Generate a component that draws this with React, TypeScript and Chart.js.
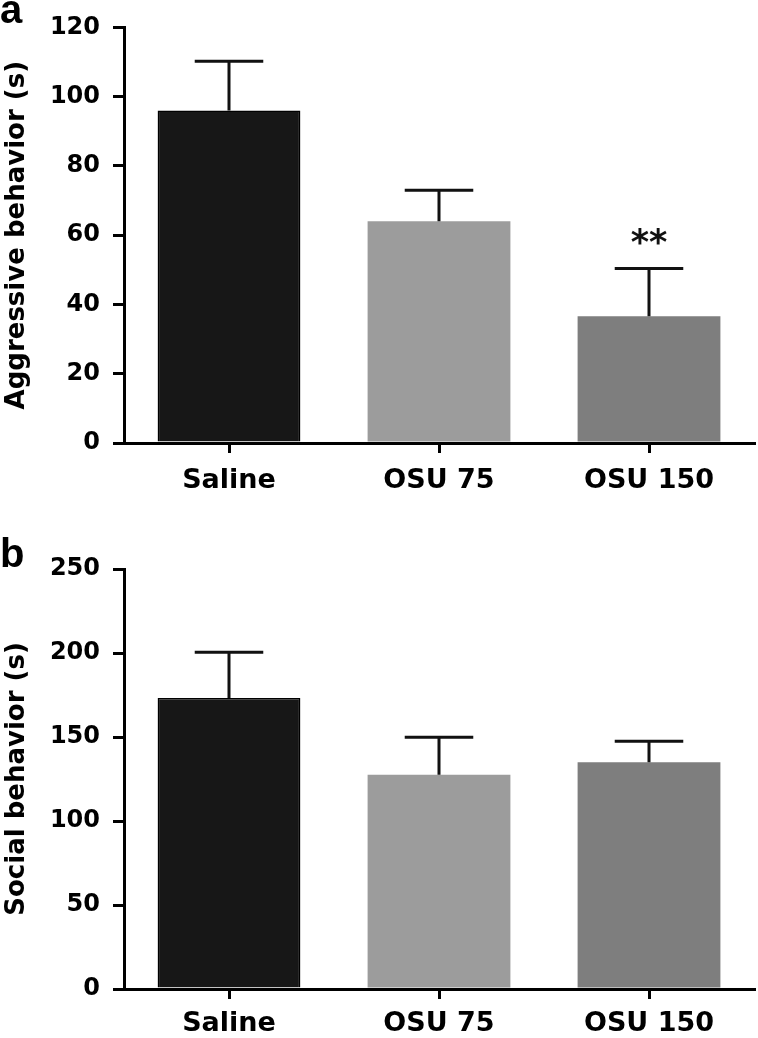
import React, { useEffect, useRef } from 'react';
import { Chart, registerables } from 'chart.js';

Chart.register(...registerables);

const categories = ['Saline', 'OSU 75', 'OSU 150'];

const aggressiveMeans = [96, 64, 36.6];
const aggressiveErrors = [14.2, 9, 13.8];
const aggressiveMarks = ['', '', '**'];
const aggressiveMax = 120;
const aggressiveStep = 20;

const socialMeans = [173.2, 127.6, 134.9];
const socialErrors = [27.2, 22.2, 12.5];
const socialMarks = ['', '', ''];
const socialMax = 250;
const socialStep = 50;

const barColors = ['#171717', '#9c9c9c', '#7e7e7e'];
const barBorderWidths = [1.5, 0, 0];

const FONT = "'DejaVu Sans', sans-serif";

const errorBarPlugin = {
  id: 'errorBars',
  afterDatasetsDraw(chart: any, _args: any, opts: any) {
    const { ctx } = chart;
    const meta = chart.getDatasetMeta(0);
    const yScale = chart.scales.y;
    const values = chart.data.datasets[0].data as number[];
    ctx.save();
    ctx.strokeStyle = '#111';
    ctx.lineWidth = 3;
    ctx.lineCap = 'butt';
    meta.data.forEach((bar: any, i: number) => {
      const v = values[i];
      const capY = yScale.getPixelForValue(v + opts.errors[i]);
      const baseY = yScale.getPixelForValue(v);
      const half = bar.width * 0.24;
      ctx.beginPath();
      ctx.moveTo(bar.x, baseY);
      ctx.lineTo(bar.x, capY);
      ctx.moveTo(bar.x - half, capY);
      ctx.lineTo(bar.x + half, capY);
      ctx.stroke();
      if (opts.marks[i]) {
        ctx.fillStyle = '#111';
        ctx.font = `bold 35px ${FONT}`;
        ctx.textAlign = 'center';
        ctx.textBaseline = 'alphabetic';
        ctx.fillText(opts.marks[i], bar.x, capY - 14);
      }
    });
    ctx.fillStyle = '#000';
    ctx.font = "bold 40px 'Liberation Sans', Arial, sans-serif";
    ctx.textAlign = 'left';
    ctx.textBaseline = 'alphabetic';
    ctx.fillText(opts.letter, 0, opts.letterY);
    ctx.restore();
  },
};

function makeConfig(
  means: number[],
  errors: number[],
  marks: string[],
  max: number,
  step: number,
  title: string,
  letter: string,
  letterY: number,
  padTop: number,
  xHeight: number,
  xPad: number
): any {
  return {
    type: 'bar',
    data: {
      labels: categories,
      datasets: [
        {
          data: means,
          backgroundColor: barColors,
          borderColor: '#000',
          borderWidth: barBorderWidths,
          barPercentage: 0.68,
          categoryPercentage: 1,
        },
      ],
    },
    options: {
      responsive: false,
      animation: false,
      events: [],
      layout: { padding: { left: 0, right: 4, top: padTop, bottom: 0 } },
      plugins: {
        legend: { display: false },
        tooltip: { enabled: false },
        errorBars: { errors, marks, letter, letterY },
      },
      scales: {
        x: {
          offset: true,
          grid: {
            offset: false,
            drawOnChartArea: false,
            drawTicks: true,
            tickLength: 10,
            color: '#000',
            lineWidth: 3,
          },
          border: { display: true, color: '#000', width: 3 },
          ticks: {
            color: '#000',
            padding: xPad,
            maxRotation: 0,
            font: { family: FONT, size: 27, weight: 'bold' },
          },
          afterFit(scale: any) {
            scale.height = xHeight;
          },
        },
        y: {
          min: 0,
          max,
          grid: {
            drawOnChartArea: false,
            drawTicks: true,
            tickLength: 11,
            color: '#000',
            lineWidth: 3,
          },
          border: { display: true, color: '#000', width: 3 },
          ticks: {
            stepSize: step,
            color: '#000',
            padding: 13,
            font: { family: FONT, size: 24, weight: 'bold' },
          },
          title: {
            display: true,
            text: title,
            color: '#000',
            padding: { top: 1.5, bottom: 0 },
            font: { family: FONT, size: 26, weight: 'bold' },
          },
          afterFit(scale: any) {
            scale.width = 124;
          },
        },
      },
    },
    plugins: [errorBarPlugin],
  };
}

function Panel(props: { config: any; top: number; height: number }) {
  const ref = useRef<HTMLCanvasElement>(null);
  useEffect(() => {
    if (!ref.current) return;
    const chart = new Chart(ref.current, props.config);
    return () => chart.destroy();
  }, []);
  return (
    <canvas
      ref={ref}
      width={758}
      height={props.height}
      style={{ position: 'absolute', left: 0, top: props.top, width: 758, height: props.height }}
    />
  );
}

export default function App() {
  const configA = makeConfig(
    aggressiveMeans,
    aggressiveErrors,
    aggressiveMarks,
    aggressiveMax,
    aggressiveStep,
    'Aggressive behavior (s)',
    'a',
    23,
    24,
    76,
    12
  );
  const configB = makeConfig(
    socialMeans,
    socialErrors,
    socialMarks,
    socialMax,
    socialStep,
    'Social behavior (s)',
    'b',
    48,
    50,
    49,
    9
  );
  return (
    <div style={{ position: 'absolute', left: 0, top: 0, width: 758, height: 1038, background: '#fff' }}>
      <Panel config={configA} top={0} height={519} />
      <Panel config={configB} top={519} height={519} />
    </div>
  );
}
